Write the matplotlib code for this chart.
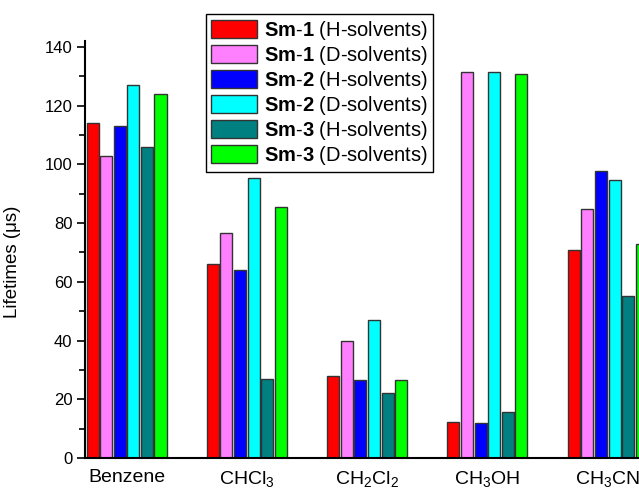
import matplotlib
matplotlib.use("Agg")
import matplotlib.pyplot as plt
import numpy as np

plt.rcParams['font.family'] = ['Liberation Sans', 'DejaVu Sans']
plt.rcParams['mathtext.fontset'] = 'custom'
plt.rcParams['mathtext.rm'] = 'Liberation Sans'
plt.rcParams['mathtext.it'] = 'Liberation Sans:italic'
plt.rcParams['mathtext.bf'] = 'Liberation Sans:bold'

solvents = ['Benzene', r'CHCl$_3$', r'CH$_2$Cl$_2$', r'CH$_3$OH', r'CH$_3$CN']
series_labels = [r'$\mathbf{Sm}$-$\mathbf{1}$ (H-solvents)',
                 r'$\mathbf{Sm}$-$\mathbf{1}$ (D-solvents)',
                 r'$\mathbf{Sm}$-$\mathbf{2}$ (H-solvents)',
                 r'$\mathbf{Sm}$-$\mathbf{2}$ (D-solvents)',
                 r'$\mathbf{Sm}$-$\mathbf{3}$ (H-solvents)',
                 r'$\mathbf{Sm}$-$\mathbf{3}$ (D-solvents)']
colors = ['#FF0000', '#FF80FF', '#0000FF', '#00FFFF', '#008080', '#00FF00']

sm1_h = [114, 66, 27.8, 12.4, 71]
sm1_d = [103, 76.5, 40, 131.6, 84.7]
sm2_h = [113, 64, 26.6, 12, 97.8]
sm2_d = [127, 95.3, 47, 131.6, 94.8]
sm3_h = [106, 27, 22, 15.8, 55.2]
sm3_d = [124, 85.5, 26.6, 130.8, 72.8]
series = [sm1_h, sm1_d, sm2_h, sm2_d, sm3_h, sm3_d]

W, H = 639, 491
fig = plt.figure(figsize=(W / 100, H / 100), dpi=100)
ax = fig.add_axes([85 / W, 33 / H, 619 / W, 417 / H])

x = np.arange(len(solvents))
pitch = 0.113
width = 0.1
for i, (vals, c, lab) in enumerate(zip(series, colors, series_labels)):
    ax.bar(x + (i - 2.5) * pitch, vals, width, color=c, edgecolor='#333333',
           linewidth=1.0, label=lab)

ax.set_xlim(-0.345, 4.8)
ax.set_ylim(0, 142)
ax.set_yticks(np.arange(0, 141, 20))
ax.set_yticks(np.arange(10, 141, 20), minor=True)
ax.set_xticks(x)
ax.set_xticklabels(solvents, fontsize=14)
ax.tick_params(axis='x', length=0, pad=8)
ax.tick_params(axis='y', which='major', direction='out', length=6, width=1.2,
               labelsize=12, pad=3)
ax.tick_params(axis='y', which='minor', direction='out', length=4, width=1.2)
for s in ['top', 'right']:
    ax.spines[s].set_visible(False)
ax.spines['left'].set_linewidth(1.5)
ax.spines['bottom'].set_linewidth(1.5)

ax.set_ylabel('Lifetimes (μs)', fontsize=13.5)
ax.yaxis.set_label_coords(-0.103, 0.47)

leg = ax.legend(loc='upper left', bbox_to_anchor=(206 / W, 1 - 14 / H),
                bbox_transform=fig.transFigure, fontsize=14.5, frameon=True,
                fancybox=False, edgecolor='black', framealpha=1,
                handlelength=2.3, handleheight=0.95, labelspacing=0.1,
                handletextpad=0.35, borderpad=0.25, borderaxespad=0)
leg.get_frame().set_linewidth(1.0)

fig.savefig('out.png', dpi=100)
